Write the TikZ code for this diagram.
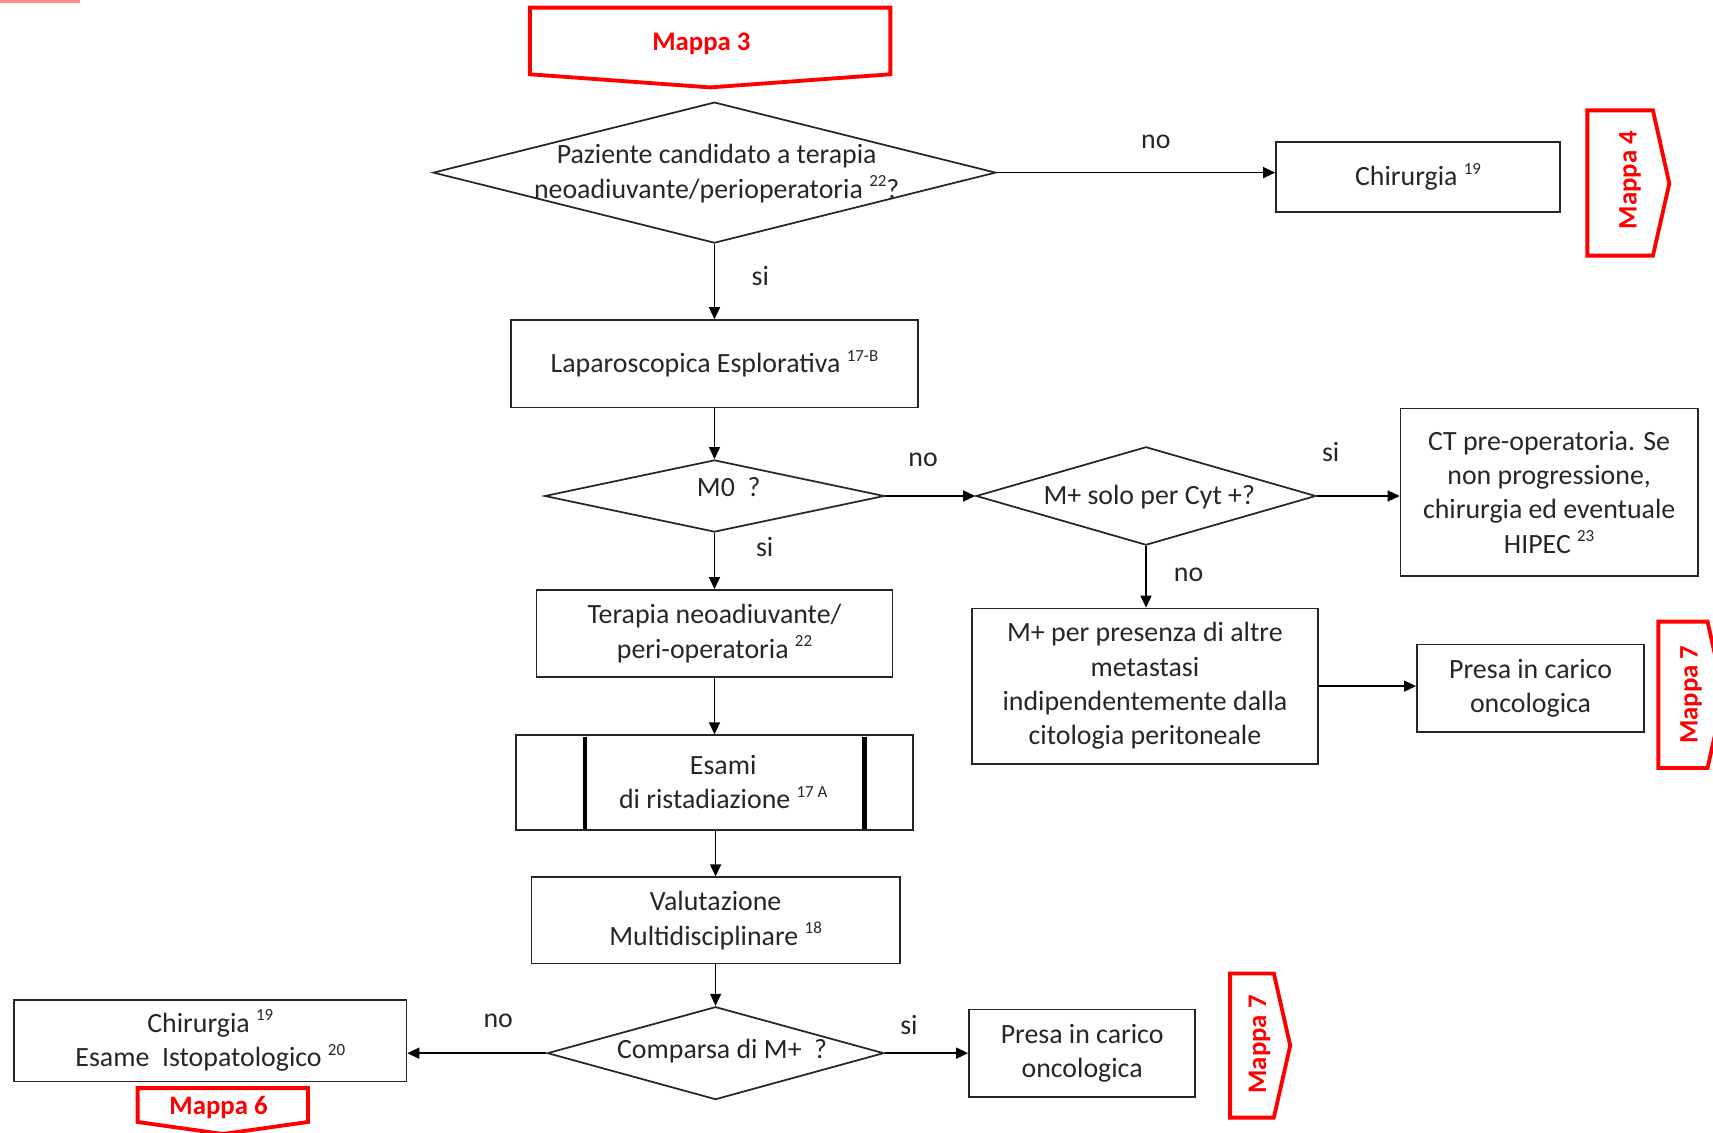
\documentclass[tikz,border=0pt]{standalone}
\usepackage{fontspec}
\setmainfont{Carlito}
\usetikzlibrary{shapes.geometric,arrows.meta,calc}

\newcommand\txtfont{\fontsize{25.5}{31.5}\selectfont}
\newcommand\mapfont{\bfseries\fontsize{24.5}{28}\selectfont}
\newcommand\sups[1]{\raisebox{0.42em}{\fontsize{15.5}{16}\selectfont #1}}

\tikzset{
  base/.style={draw=black!85, line width=1.6pt, font=\txtfont, text=black!85,
               inner sep=0pt, align=center},
  box/.style={base, rectangle},
  dia/.style={base, diamond},
  lbl/.style={font=\txtfont, text=black!85, inner sep=0pt, align=center},
  flow/.style={draw=black, line width=1.6pt, -{Triangle[length=11pt,width=10pt]}},
  mapshape/.style={draw=red, line width=3.5pt, line join=miter, fill=white},
  maptxt/.style={text=red, font=\mapfont, inner sep=0pt},
}

\begin{document}
\begin{tikzpicture}[x=1pt,y=-1pt]
\useasboundingbox (0,0) rectangle (1568,1037);
\clip (0,0) rectangle (1568,1037);

% small mark in the corner
\fill[red!45] (0,0) rectangle (73,2.5);

% off-page connectors
\draw[mapshape] (485,7) -- (815,7) -- (815,68) -- (650,80) -- (485,68) -- cycle;
\node[maptxt] (m3) at (642,40) {Mappa 3};
\draw[mapshape] (1453,101) -- (1513,101) -- (1528,168) -- (1513,234) -- (1453,234) -- cycle;
\node[maptxt, rotate=90] (m4) at (1492,165) {Mappa 4};
\draw[mapshape] (1518,569) -- (1563,569) -- (1578,636) -- (1563,703) -- (1518,703) -- cycle;
\node[maptxt, rotate=90] (m7a) at (1548,636) {Mappa 7};
\draw[mapshape] (1126,891) -- (1166,891) -- (1181,957) -- (1166,1023) -- (1126,1023) -- cycle;
\node[maptxt, rotate=90] (m7b) at (1153,956) {Mappa 7};
\draw[mapshape] (126,996) -- (282,996) -- (282,1027) -- (204,1038) -- (126,1027) -- cycle;
\node[maptxt] (m6) at (200,1014) {Mappa 6};

% decisions
\node[dia, minimum width=515pt, minimum height=129pt] (d1) at (654,158) {};
\node[lbl] (d1t) at (656,159) {Paziente candidato a terapia\\neoadiuvante/perioperatoria \sups{22}?};
\node[dia, minimum width=311pt, minimum height=66pt] (m0) at (654,454) {};
\node[lbl] (m0t) at (667,446) {M0\ \ ?};
\node[dia, minimum width=311pt, minimum height=90pt] (mp) at (1049,454) {};
\node[lbl] (mpt) at (1052,455) {M+ solo per Cyt +?};
\node[dia, minimum width=308pt, minimum height=85pt] (cp) at (655,964) {};
\node[lbl] (cpt) at (661,962) {Comparsa di M+\ \ ?};

% process boxes
\node[box, minimum width=260pt, minimum height=64pt] (chir) at (1298,162) {Chirurgia \sups{19}};
\node[box, minimum width=372pt, minimum height=80pt] (lap) at (654,333) {Laparoscopica Esplorativa \sups{17-B}};
\node[box, minimum width=272pt, minimum height=153pt] (ct) at (1418,450.5)
  {CT pre-operatoria. Se\\non progressione,\\chirurgia ed eventuale\\HIPEC \sups{23}};
\node[box, minimum width=317pt, minimum height=142pt] (mper) at (1048,628)
  {M+ per presenza di altre\\metastasi\\indipendentemente dalla\\citologia peritoneale};
\node[box, minimum width=208pt, minimum height=80pt] (pr1) at (1401,630) {Presa in carico\\oncologica};
\node[box, minimum width=326pt, minimum height=80pt] (ter) at (654,580)
  {Terapia neoadiuvante/\\peri-operatoria \sups{22}};
\node[box, minimum width=363pt, minimum height=87pt] (esa) at (654,716.5) {};
\node[lbl] (esat) at (662,716) {Esami\\di ristadiazione \sups{17 A}};
\draw[black, line width=4pt] ($(esa.north west)+(64,2)$) -- ($(esa.south west)+(64,-2)$);
\draw[black, line width=4pt] ($(esa.north east)+(-45,2)$) -- ($(esa.south east)+(-45,-2)$);
\node[box, minimum width=337pt, minimum height=79pt] (val) at (655,842.5)
  {Valutazione\\Multidisciplinare \sups{18}};
\node[box, minimum width=359pt, minimum height=75pt] (chir2) at (192.5,952.5)
  {Chirurgia \sups{19}\\Esame\ \ Istopatologico \sups{20}};
\node[box, minimum width=207pt, minimum height=80pt] (pr2) at (990.5,964) {Presa in carico\\oncologica};

% connectors
\draw[flow] (d1.east) -- (d1.east -| chir.west);
\draw[flow] (d1.south) -- (lap.north);
\draw[flow] (lap.south) -- (m0.north);
\draw[flow] (m0.east) -- (mp.west);
\draw[flow] (mp.east) -- (mp.east -| ct.west);
\draw[flow] (mp.south) -- (mp.south |- mper.north);
\draw[flow] (mper.east) -- (mper.east -| pr1.west);
\draw[flow] (m0.south) -- (ter.north);
\draw[flow] (ter.south) -- (esa.north);
\draw[flow] (esa.south -| val.north) -- (val.north);
\draw[flow] (val.south) -- (cp.north);
\draw[flow] (cp.west) -- (cp.west -| chir2.east);
\draw[flow] (cp.east) -- (cp.east -| pr2.west);

% branch labels
\node[lbl] (l1) at (1058,130) {no};
\node[lbl] (l2) at (696,253) {si};
\node[lbl] (l3) at (845,421) {no};
\node[lbl] (l4) at (700,501) {si};
\node[lbl] (l5) at (1218,414) {si};
\node[lbl] (l6) at (1088,526) {no};
\node[lbl] (l7) at (456,934) {no};
\node[lbl] (l8) at (832,938) {si};
\end{tikzpicture}
\end{document}
